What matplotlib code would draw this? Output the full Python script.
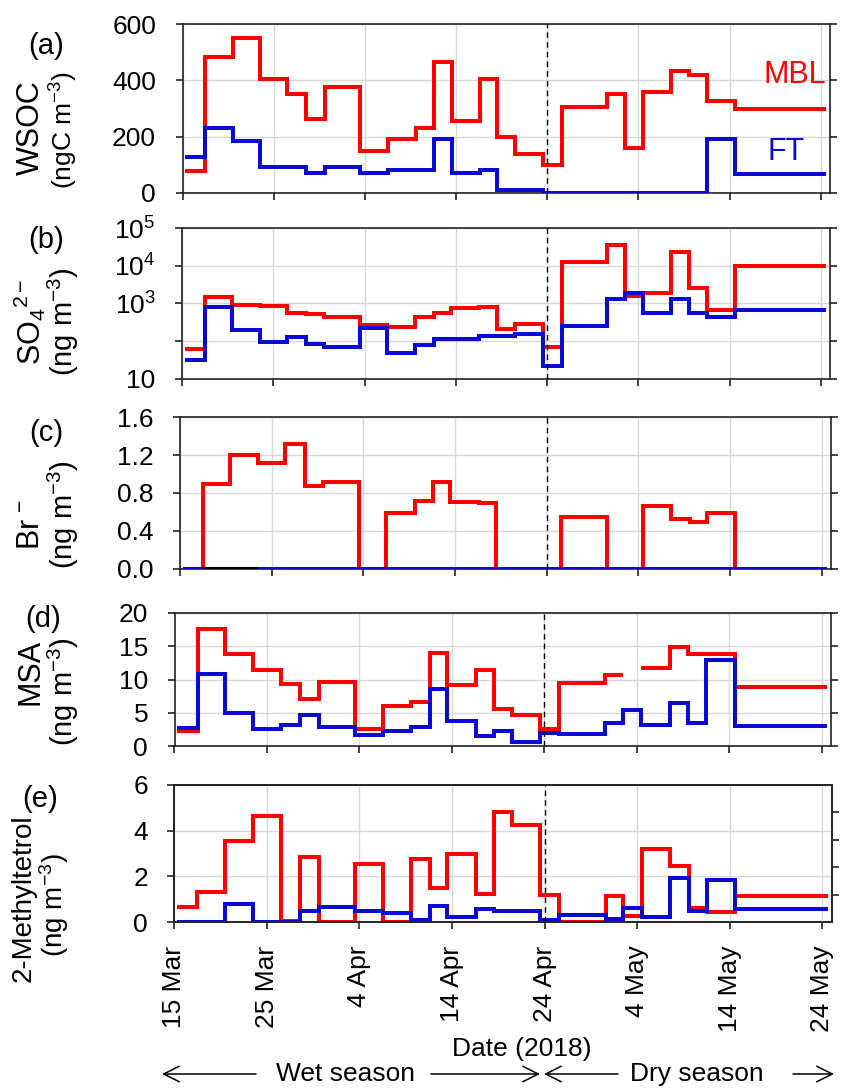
import numpy as np
import pandas as pd
import matplotlib
matplotlib.use("Agg")
import matplotlib.pyplot as plt
import matplotlib.dates as mdates
from matplotlib.patches import FancyArrowPatch
from matplotlib.ticker import FixedLocator, FuncFormatter, NullLocator

plt.rcParams['font.family'] = ['Liberation Sans', 'DejaVu Sans']
plt.rcParams['mathtext.fontset'] = 'custom'
plt.rcParams['mathtext.rm'] = 'Liberation Sans'
plt.rcParams['mathtext.it'] = 'Liberation Sans:italic'
plt.rcParams['mathtext.bf'] = 'Liberation Sans:bold'

# sampling periods (start of each filter, last entry = end of last one)
edges = ['2018-03-15 07:00', '2018-03-17 12:00', '2018-03-20 12:00', '2018-03-23 12:00',
         '2018-03-26 12:00', '2018-03-28 14:00', '2018-03-30 14:00', '2018-04-03 12:00',
         '2018-04-06 12:00', '2018-04-09 14:00', '2018-04-11 14:00', '2018-04-13 12:00',
         '2018-04-16 14:00', '2018-04-18 12:00', '2018-04-20 12:00', '2018-04-23 12:00',
         '2018-04-25 14:00', '2018-04-30 14:00', '2018-05-02 12:00', '2018-05-04 12:00',
         '2018-05-07 14:00', '2018-05-09 14:00', '2018-05-11 12:00', '2018-05-14 14:00',
         '2018-05-24 14:00']

nan = np.nan
wsoc_mbl = [77, 484, 549, 404, 351, 264, 375, 149, 192, 231, 464, 257,
            404, 199, 140, 100, 306, 353, 158, 357, 434, 419, 327, 300]
wsoc_ft = [128, 232, 184, 92, 92, 71, 92, 71, 81, 81, 193, 71,
           81, 9, 9, 0, 0, 0, 0, 0, 0, 0, 193, 69]

so4_mbl = [62, 1450, 910, 824, 560, 506, 421, 259, 229, 439, 537, 730,
           776, 211, 286, 69, 12300, 34700, 1550, 1860, 23100, 2570, 660, 9660]
so4_ft = [31, 790, 191, 94, 129, 81, 70, 225, 47, 76, 110, 110,
          132, 132, 152, 22, 243, 1260, 1830, 537, 1320, 560, 440, 660]

br_mbl = [0, 0.90, 1.20, 1.115, 1.315, 0.875, 0.918, 0, 0.587, 0.72, 0.92, 0.71,
          0.693, 0, 0, 0, 0.552, 0, 0, 0.665, 0.524, 0.50, 0.587, 0]
br_ft = [0] * 24
br_ft_nd = [nan, 0, 0, nan, nan, nan, nan, nan, nan, nan, nan, nan,
            nan, nan, nan, nan, nan, nan, nan, nan, nan, nan, nan, nan]

msa_mbl = [2.25, 17.6, 13.9, 11.5, 9.3, 7.0, 9.6, 2.6, 6.0, 6.6, 14.0, 9.1,
           11.4, 5.5, 4.7, 2.5, 9.5, 10.7, nan, 11.7, 14.9, 13.8, 13.8, 8.9]
msa_ft = [2.7, 10.8, 5.0, 2.5, 3.2, 4.7, 2.9, 1.7, 2.25, 2.85, 8.5, 3.7,
          1.5, 2.2, 0.55, 2.0, 1.85, 3.5, 5.4, 3.2, 6.5, 3.5, 12.9, 2.96]

mt_mbl = [0.64, 1.33, 3.55, 4.65, 0.06, 2.84, 0, 2.52, 0, 2.78, 1.47, 2.97,
          1.24, 4.83, 4.24, 1.18, 0, 1.15, 0.25, 3.2, 2.46, 0.61, 0.42, 1.12]
mt_ft = [0, 0, 0.8, 0, 0, 0.5, 0.64, 0.5, 0.4, 0.1, 0.68, 0.22,
         0.57, 0.5, 0.49, 0.1, 0.29, 0.13, 0.61, 0.22, 1.94, 0.47, 1.82, 0.57]

date_ticks = ['2018-03-15', '2018-03-25', '2018-04-04', '2018-04-14',
              '2018-04-24', '2018-05-04', '2018-05-14', '2018-05-24']
season_split = '2018-04-24'

W, H = 844, 1091
RED = '#ff0000'
BLUE = '#0a0ad2'
SPINE = '#222222'
GRID = '#d9d9d9'

xe = mdates.date2num(pd.to_datetime(edges))
xt = mdates.date2num(pd.to_datetime(date_ticks))
xsplit = mdates.date2num(pd.Timestamp(season_split))
xlim = (mdates.date2num(pd.Timestamp('2018-03-15')), mdates.date2num(pd.Timestamp('2018-05-25')))


def px_rect(left, right, top, bottom):
    return [left / W, 1 - bottom / H, (right - left) / W, (bottom - top) / H]


def fx(x):
    return x / W


def fy(y):
    return 1 - y / H


def steps(ax, vals, color, z=2):
    v = np.asarray(vals, dtype=float)
    ax.step(xe, np.append(v, v[-1]), where='post', color=color, lw=2.9,
            solid_capstyle='butt', solid_joinstyle='miter', zorder=z)


def style(ax, yticks, ylabels, ylim, right=True, show_x=False):
    ax.set_xlim(*xlim)
    ax.set_ylim(*ylim)
    ax.xaxis.set_major_locator(FixedLocator(xt))
    ax.yaxis.set_major_locator(FixedLocator(yticks))
    ax.yaxis.set_minor_locator(NullLocator())
    ax.set_yticklabels(ylabels)
    ax.grid(True, color=GRID, lw=1.0, zorder=0)
    ax.set_axisbelow(True)
    for s in ax.spines.values():
        s.set_color(SPINE)
        s.set_linewidth(1.2)
    ax.tick_params(axis='y', direction='out', length=5, width=1.2, color=SPINE,
                   labelsize=19, pad=14, right=right)
    ax.tick_params(axis='x', direction='out', length=5, width=1.2, color=SPINE,
                   labelsize=19, pad=12, labelbottom=show_x)
    ax.axvline(xsplit, color='black', lw=1.0, ls=(0, (4, 3)), zorder=3)


fig = plt.figure(figsize=(W / 100, H / 100), dpi=100)

# (a) WSOC
ax_a = fig.add_axes(px_rect(182.5, 830, 24, 193))
steps(ax_a, wsoc_mbl, RED)
steps(ax_a, wsoc_ft, BLUE, 3)
style(ax_a, [0, 200, 400, 600], ['0', '200', '400', '600'], (0, 600))
ax_a.text(0.898, 0.70, 'MBL', color=RED, fontsize=22, transform=ax_a.transAxes,
          ha='left', va='center')
ax_a.text(0.903, 0.24, 'FT', color=BLUE, fontsize=22, transform=ax_a.transAxes,
          ha='left', va='center')

# (b) sulfate, log scale
ax_b = fig.add_axes(px_rect(182, 830, 228, 378.5))
ax_b.set_yscale('log')
steps(ax_b, so4_mbl, RED)
steps(ax_b, so4_ft, BLUE, 3)
style(ax_b, [10, 100, 1e3, 1e4, 1e5],
      ['10', '', r'$10^{3}$', r'$10^{4}$', r'$10^{5}$'], (10, 1e5))

# (c) bromide
ax_c = fig.add_axes(px_rect(180, 831, 417, 569))
steps(ax_c, br_mbl, RED)
steps(ax_c, br_ft, BLUE, 3)
steps(ax_c, br_ft_nd, 'black', 4)
style(ax_c, [0, 0.4, 0.8, 1.2, 1.6], ['0.0', '0.4', '0.8', '1.2', '1.6'], (0, 1.6))

# (d) MSA
ax_d = fig.add_axes(px_rect(174.5, 831, 613, 746))
steps(ax_d, msa_mbl, RED)
steps(ax_d, msa_ft, BLUE, 3)
style(ax_d, [0, 5, 10, 15, 20], ['0', '5', '10', '15', '20'], (0, 20))

# (e) 2-methyltetrols
ax_e = fig.add_axes(px_rect(174.3, 831.7, 785, 922))
steps(ax_e, mt_mbl, RED)
steps(ax_e, mt_ft, BLUE, 3)
style(ax_e, [0, 2, 4, 6], ['0', '2', '4', '6'], (0, 6), right=False, show_x=True)
ax_e.xaxis.set_major_formatter(FuncFormatter(
    lambda v, pos: f"{mdates.num2date(v).day} {mdates.num2date(v):%b}"))
for lab in ax_e.get_xticklabels():
    lab.set_rotation(90)
    lab.set_va('top')
    lab.set_ha('center')
ax_e2 = ax_e.twinx()
ax_e2.set_ylim(0, 6)
ax_e2.set_yticks([1.2, 2.4, 3.6, 4.8])
ax_e2.tick_params(axis='y', direction='out', length=5, width=1.2, color=SPINE,
                  labelright=False)
for s in ax_e2.spines.values():
    s.set_color(SPINE)
    s.set_linewidth(1.2)

# panel letters and axis titles
letters = [('(a)', 46, 46), ('(b)', 46, 240), ('(c)', 46, 433), ('(d)', 43, 619), ('(e)', 40, 799)]
for txt, x, y in letters:
    fig.text(fx(x), fy(y), txt, fontsize=21, ha='center', va='center')

ylabels = [
    ('WSOC', 31, 128, 22), (r'(ngC m$^{-3}$)', 64, 130, 19),
    (r'SO$_4$$^{2-}$', 30, 322, 22), (r'(ng m$^{-3}$)', 63, 322, 21),
    (r'Br$^{\,-}$', 31, 525, 22), (r'(ng m$^{-3}$)', 63, 515, 21),
    ('MSA', 31, 672, 22), (r'(ng m$^{-3}$)', 63, 692, 21),
    ('2-Methyltetrol', 24, 898, 20), (r'(ng m$^{-3}$)', 54, 905, 20),
]
for txt, x, y, fs in ylabels:
    fig.text(fx(x), fy(y), txt, fontsize=fs, rotation=90, ha='center', va='center')

fig.text(fx(522), fy(1049), 'Date (2018)', fontsize=19, ha='center', va='center')

# season arrows
season_y = fy(1074)
fig.text(fx(345), season_y, 'Wet season', fontsize=19, ha='center', va='center')
fig.text(fx(697), season_y, 'Dry season', fontsize=19, ha='center', va='center')
arrows = [(256, 162), (431, 540), (618, 544), (793, 834)]
for x0, x1 in arrows:
    fig.add_artist(FancyArrowPatch(
        (fx(x0), season_y), (fx(x1), season_y), transform=fig.transFigure,
        arrowstyle='->,head_length=0.7,head_width=0.35', mutation_scale=16,
        lw=1.1, color='black', shrinkA=0, shrinkB=0))

fig.savefig('out.png', dpi=100)
